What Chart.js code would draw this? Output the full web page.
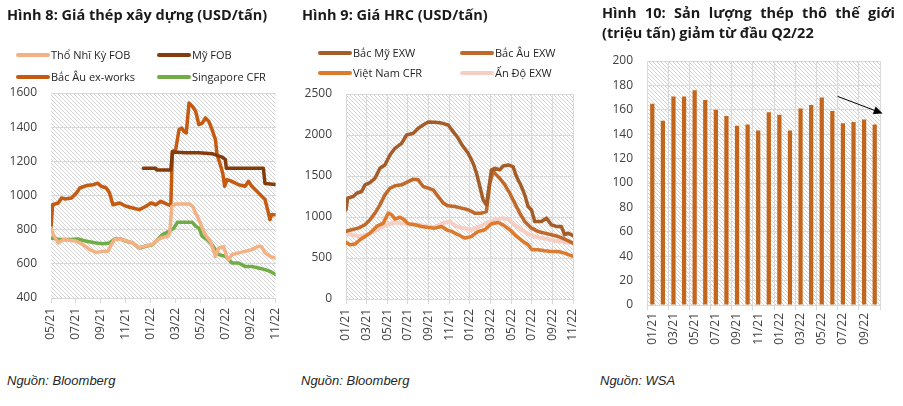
<!DOCTYPE html>
<html><head><meta charset="utf-8">
<script src="https://cdn.jsdelivr.net/npm/chart.js@4.4.0/dist/chart.umd.min.js"></script>
<style>
body{margin:0;width:903px;height:406px;background:#fff;position:relative;overflow:hidden;font-family:'Open Sans',sans-serif;color:#1a1a1a}
canvas{position:absolute;top:0}
.title{position:absolute;font-weight:700;font-size:14.5px;white-space:nowrap;line-height:19px;z-index:2}
.li{position:absolute;display:flex;align-items:center;white-space:nowrap;font-size:11px;line-height:14px;color:#1f1f1f;z-index:2}
.sw{display:inline-block;width:34px;height:4px;margin-right:1px;border-radius:2px}
.src{position:absolute;top:373px;font-family:'Liberation Sans Narrow','Liberation Sans',sans-serif;font-style:italic;font-size:13px;color:#262626}
</style></head>
<body>
<div class="title" style="left:7px;top:5px">Hình 8: Giá thép xây dựng (USD/tấn)</div>
<div class="title" style="left:302px;top:5px">Hình 9: Giá HRC (USD/tấn)</div>
<div class="title" style="left:602px;top:3px;width:293px;text-align:justify;text-align-last:justify">Hình 10: Sản lượng thép thô thế giới</div>
<div class="title" style="left:602px;top:23px">(triệu tấn) giảm từ đầu Q2/22</div>
<div class="src" style="left:7px">Nguồn: Bloomberg</div>
<div class="src" style="left:301px">Nguồn: Bloomberg</div>
<div class="src" style="left:600px">Nguồn: WSA</div>
<canvas id="c1" width="295" height="406" style="left:0"></canvas>
<canvas id="c2" width="300" height="406" style="left:295px"></canvas>
<canvas id="c3" width="308" height="406" style="left:595px"></canvas>
<script>
// ---------- Hình 8: Giá thép xây dựng (x = months since 05/2021) ----------
const h8TickLabels = ['05/21','07/21','09/21','11/21','01/22','03/22','05/22','07/22','09/22','11/22'];
const h8Names = ['Thổ Nhĩ Kỳ FOB','Mỹ FOB','Bắc Âu ex-works','Singapore CFR'];
const tnkMonth = [0,0.19,0.58,0.98,1.51,2.04,2.57,3.10,3.63,4.16,4.56,4.83,5.09,5.62,6.02,6.55,7.08,7.61,8.14,8.54,8.93,9.33,9.52,9.68,9.99,10.52,11.06,11.32,11.59,11.85,12.12,12.38,12.78,13.18,13.44,13.84,14.10,14.24,14.50,15.03,15.56,16.09,16.62,16.89,17.15,17.55,18.00];
const tnkPrice = [810,771,722,742,738,732,712,683,667,673,673,712,742,745,735,722,695,705,715,740,755,760,780,937,950,950,950,940,898,859,810,770,730,644,693,700,640,625,654,664,673,683,703,700,664,644,634];
const myMonth = [7.40,8.40,8.46,9.60,9.73,10.79,11.85,12.91,13.31,13.71,13.97,14.05,14.50,17.02,17.15,18.00];
const myPrice = [1160,1160,1150,1150,1255,1250,1250,1245,1235,1225,1210,1160,1160,1160,1070,1065];
const bauMonth = [0,0.13,0.58,0.85,1.11,1.64,2.04,2.31,2.84,3.37,3.76,4.03,4.43,4.69,4.96,5.49,6.02,6.55,7.08,7.61,8.01,8.40,8.80,9.20,9.60,9.73,9.99,10.26,10.47,10.66,10.84,11.06,11.32,11.59,11.85,12.12,12.38,12.65,12.91,13.18,13.31,13.57,13.76,13.92,14.10,14.50,15.03,15.56,15.83,16.09,16.49,16.89,17.15,17.36,17.55,17.68,18.00];
const bauPrice = [810,946,956,985,980,985,1015,1044,1058,1063,1072,1054,1044,1015,946,956,937,927,917,937,956,946,966,952,940,1259,1268,1385,1395,1375,1366,1541,1522,1493,1415,1424,1454,1434,1385,1327,1239,1180,1132,1054,1093,1083,1063,1054,1083,1054,1025,995,976,917,859,888,888];
const sgMonth = [0,0.72,1.51,2.17,2.84,3.63,4.16,4.69,5.09,5.62,6.02,6.55,7.08,7.61,8.14,8.54,8.93,9.46,9.86,10.13,11.32,11.59,11.85,12.12,12.51,12.91,13.44,13.97,14.50,15.03,15.56,16.09,16.62,17.15,17.55,18.00];
const sgPrice = [751,742,742,745,732,722,718,722,745,745,732,722,693,703,712,742,771,790,810,843,843,820,810,761,742,712,654,644,605,605,585,585,576,566,556,537];

// ---------- Hình 9: Giá HRC (x = months since 01/2021) ----------
const h9TickLabels = ['01/21','03/21','05/21','07/21','09/21','11/21','01/22','03/22','05/22','07/22','09/22','11/22'];
const h9Names = ['Bắc Mỹ EXW','Bắc Âu EXW','Việt Nam CFR','Ấn Độ EXW'];
const bmMonth = [0,0.16,0.71,1.03,1.52,1.84,2.32,2.81,3.29,3.77,4.26,4.74,5.39,5.87,6.52,7.00,7.48,7.97,8.61,9.26,9.90,10.39,10.87,11.35,11.84,12.32,12.65,12.97,13.29,13.61,13.77,14.10,14.42,14.90,15.23,15.71,16.19,16.52,17.00,17.32,17.65,17.97,18.29,18.94,19.42,19.90,20.39,20.87,21.19,21.52,22.00];
const bmPrice = [1088,1230,1250,1290,1311,1392,1420,1473,1595,1635,1757,1838,1899,2000,2021,2082,2122,2160,2155,2145,2122,2041,1960,1859,1777,1656,1534,1372,1209,1148,1290,1575,1595,1575,1623,1635,1615,1493,1372,1270,1128,1088,945,945,986,905,885,885,783,803,771];
const beMonth = [0,0.55,1.19,1.84,2.32,2.81,3.29,3.77,4.26,4.74,5.39,6.03,6.52,7.00,7.48,7.97,8.45,8.94,9.42,9.90,10.55,11.19,11.84,12.48,13.13,13.61,13.94,14.26,14.58,14.90,15.39,15.87,16.35,16.84,17.32,17.97,18.61,19.26,19.90,20.55,21.19,22.00];
const bePrice = [824,844,864,905,966,1047,1148,1270,1351,1380,1392,1432,1461,1453,1372,1351,1331,1250,1169,1136,1128,1108,1088,1047,1047,1067,1412,1560,1514,1473,1392,1290,1169,1047,945,864,824,803,783,763,730,680];
const vnMonth = [0,0.39,0.87,1.35,1.84,2.32,2.97,3.61,4.10,4.42,4.74,5.23,5.55,6.03,6.68,7.32,7.97,8.61,9.26,9.74,10.23,10.87,11.52,12.16,12.81,13.45,14.10,14.74,15.23,15.87,16.52,17.16,17.65,18.03,18.61,19.26,19.90,20.55,21.19,22.00];
const vnPrice = [690,661,670,722,763,803,885,925,1047,1027,974,998,974,917,905,885,872,864,885,844,824,783,743,763,824,844,917,933,905,844,763,702,661,601,601,588,580,580,560,519];
const adMonth = [0,0.55,1.35,2.00,2.65,3.29,3.94,4.74,5.39,6.19,7.00,7.81,8.61,9.42,10.06,10.71,11.35,12.16,12.97,13.61,14.42,15.23,15.87,16.35,17.00,17.65,18.29,18.94,19.58,20.23,20.87,21.52,22.00];
const adPrice = [795,783,763,783,824,864,905,933,925,913,905,885,877,925,945,885,864,844,885,925,966,986,966,905,844,795,763,743,730,710,702,690,682];

// ---------- Hình 10: Sản lượng thép thô thế giới (triệu tấn) ----------
const h10Months = ['01/21','02/21','03/21','04/21','05/21','06/21','07/21','08/21','09/21','10/21','11/21','12/21','01/22','02/22','03/22','04/22','05/22','06/22','07/22','08/22','09/22','10/22'];
const h10Output = [165,151,171,171,176,168,160,155,147,148,143,158,156,143,161,164,170,159,149,150,152,148];
const h10ArrowFrom = [17.5, 171];
const h10ArrowTo = [21.75, 157];

const pts = (xs, ys) => xs.map((x, i) => ({x, y: ys[i]}));
const H = 406;
const GRID = '#d9d9d9';
const TICKC = '#404040';
const tickFont = {family: "'Open Sans', sans-serif", size: 12};
const plain = v => String(v);

function hatch() {
  const s = 4, p = document.createElement('canvas');
  p.width = s; p.height = s;
  const c = p.getContext('2d');
  c.strokeStyle = '#d3d3d3'; c.lineWidth = 1;
  c.beginPath();
  c.moveTo(-1, -1); c.lineTo(s + 1, s + 1);
  c.moveTo(-1, s - 1); c.lineTo(1, s + 1);
  c.moveTo(s - 1, -1); c.lineTo(s + 1, 1);
  c.stroke();
  return p;
}
const hatchPlugin = {
  id: 'hatchBg',
  beforeDraw(chart) {
    const {ctx, chartArea: a} = chart;
    ctx.save();
    ctx.fillStyle = ctx.createPattern(hatch(), 'repeat');
    ctx.fillRect(a.left, a.top, a.right - a.left, a.bottom - a.top);
    ctx.restore();
  }
};

function lineOptions(box, xMax, tickLabels, yMin, yMax, yStep, xGridOnArea) {
  return {
    responsive: false, animation: false,
    layout: {padding: {left: 0, top: box.top, right: box.w - box.right, bottom: 0}},
    plugins: {legend: {display: false}, tooltip: {enabled: false}},
    elements: {point: {radius: 0}, line: {borderWidth: 3.5, tension: 0, borderJoinStyle: 'round', borderCapStyle: 'round'}},
    scales: {
      x: {
        type: 'linear', min: 0, max: xMax,
        afterFit: s => { s.height = H - box.bottom; },
        grid: {display: true, drawOnChartArea: xGridOnArea, drawTicks: true, tickLength: 5, color: GRID},
        border: {display: false},
        ticks: {stepSize: 2, autoSkip: false, minRotation: 90, maxRotation: 90, padding: 5, color: TICKC, font: tickFont,
          callback: v => (v % 2 === 0 ? tickLabels[v / 2] : '')}
      },
      y: {
        min: yMin, max: yMax,
        afterFit: s => { s.width = box.left; },
        grid: {color: GRID, drawTicks: false},
        border: {display: false},
        ticks: {stepSize: yStep, padding: 14, color: TICKC, font: tickFont, callback: plain}
      }
    }
  };
}

const h8Colors = ['#F4B183', '#843C0C', '#C55A11', '#70AD47'];
const ch1 = new Chart(document.getElementById('c1'), {
  type: 'line',
  data: {datasets: [
    {label: h8Names[0], data: pts(tnkMonth, tnkPrice), borderColor: h8Colors[0], backgroundColor: h8Colors[0]},
    {label: h8Names[1], data: pts(myMonth, myPrice), borderColor: h8Colors[1], backgroundColor: h8Colors[1]},
    {label: h8Names[2], data: pts(bauMonth, bauPrice), borderColor: h8Colors[2], backgroundColor: h8Colors[2]},
    {label: h8Names[3], data: pts(sgMonth, sgPrice), borderColor: h8Colors[3], backgroundColor: h8Colors[3]}
  ]},
  options: lineOptions({w: 295, left: 51, right: 277, top: 93, bottom: 298}, 18, h8TickLabels, 400, 1600, 200, false),
  plugins: [hatchPlugin]
});

const h9Colors = ['#A45C29', '#C0692B', '#DC7A2E', '#F6CFC4'];
const ch2 = new Chart(document.getElementById('c2'), {
  type: 'line',
  data: {datasets: [
    {label: h9Names[0], data: pts(bmMonth, bmPrice), borderColor: h9Colors[0], backgroundColor: h9Colors[0]},
    {label: h9Names[1], data: pts(beMonth, bePrice), borderColor: h9Colors[1], backgroundColor: h9Colors[1]},
    {label: h9Names[2], data: pts(vnMonth, vnPrice), borderColor: h9Colors[2], backgroundColor: h9Colors[2]},
    {label: h9Names[3], data: pts(adMonth, adPrice), borderColor: h9Colors[3], backgroundColor: h9Colors[3], borderWidth: 4}
  ]},
  options: lineOptions({w: 300, left: 51, right: 278, top: 94, bottom: 299}, 22, h9TickLabels, 0, 2500, 500, true),
  plugins: [hatchPlugin]
});

const arrowPlugin = {
  id: 'trendArrow',
  afterDatasetsDraw(chart) {
    const {ctx, scales: {x, y}} = chart;
    const x1 = x.getPixelForValue(h10ArrowFrom[0]), y1 = y.getPixelForValue(h10ArrowFrom[1]);
    const x2 = x.getPixelForValue(h10ArrowTo[0]), y2 = y.getPixelForValue(h10ArrowTo[1]);
    const ang = Math.atan2(y2 - y1, x2 - x1), L = 9, W = 4;
    ctx.save();
    ctx.strokeStyle = '#000'; ctx.fillStyle = '#000'; ctx.lineWidth = 1;
    ctx.beginPath(); ctx.moveTo(x1, y1);
    ctx.lineTo(x2 - L * Math.cos(ang), y2 - L * Math.sin(ang)); ctx.stroke();
    ctx.beginPath(); ctx.moveTo(x2, y2);
    ctx.lineTo(x2 - L * Math.cos(ang) + W * Math.sin(ang), y2 - L * Math.sin(ang) - W * Math.cos(ang));
    ctx.lineTo(x2 - L * Math.cos(ang) - W * Math.sin(ang), y2 - L * Math.sin(ang) + W * Math.cos(ang));
    ctx.closePath(); ctx.fill();
    ctx.restore();
  }
};

const box3 = {w: 308, left: 52, right: 285, top: 61, bottom: 305};
const ch3 = new Chart(document.getElementById('c3'), {
  type: 'bar',
  data: {labels: h10Months, datasets: [{label: 'Sản lượng', data: h10Output, backgroundColor: '#C2651D', barPercentage: 0.4, categoryPercentage: 1}]},
  options: {
    responsive: false, animation: false,
    layout: {padding: {left: 0, top: box3.top, right: box3.w - box3.right, bottom: 0}},
    plugins: {legend: {display: false}, tooltip: {enabled: false}},
    scales: {
      x: {
        afterFit: s => { s.height = H - box3.bottom; },
        grid: {offset: true, drawTicks: true, tickLength: 5,
          color: c => (c.index === undefined || c.index % 2 === 0) ? GRID : 'rgba(0,0,0,0)'},
        border: {display: false},
        ticks: {autoSkip: false, minRotation: 90, maxRotation: 90, padding: 3, color: TICKC, font: tickFont,
          callback: (v, i) => (i % 2 === 0 ? h10Months[i] : '')}
      },
      y: {
        min: 0, max: 200,
        afterFit: s => { s.width = box3.left; },
        grid: {color: GRID, drawTicks: false},
        border: {display: false},
        ticks: {stepSize: 20, padding: 14, color: TICKC, font: tickFont, callback: plain}
      }
    }
  },
  plugins: [hatchPlugin, arrowPlugin]
});

// HTML legends built from the chart datasets
function legend(chart, pos) {
  chart.data.datasets.forEach((ds, i) => {
    const d = document.createElement('div');
    d.className = 'li';
    d.style.left = pos[i][0] + 'px';
    d.style.top = (pos[i][1] - 7) + 'px';
    d.innerHTML = '<span class="sw" style="background:' + ds.borderColor + '"></span>' + ds.label;
    document.body.appendChild(d);
  });
}
legend(ch1, [[16, 55], [157, 55], [16, 77], [157, 77]]);
legend(ch2, [[318, 53], [460, 53], [318, 73], [460, 73]]);
</script>
</body></html>
